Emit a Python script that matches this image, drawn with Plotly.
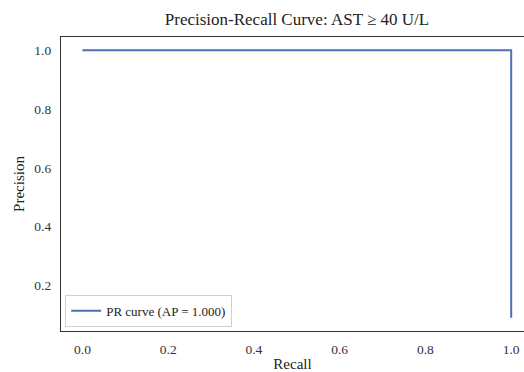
import plotly.graph_objects as go

recall = [0.0, 1.0, 1.0]
precision = [1.0, 1.0, 0.09]
series_name = "PR curve (AP = 1.000)"
title_text = "Precision-Recall Curve: AST \u2265 40 U/L"
tick_vals = [0.0, 0.2, 0.4, 0.6, 0.8, 1.0]
y_tick_vals = [0.2, 0.4, 0.6, 0.8, 1.0]

SERIF = "Liberation Serif, Times New Roman, serif"

fig = go.Figure()
fig.add_trace(go.Scatter(
    x=recall, y=precision, mode="lines", name=series_name,
    line=dict(color="#4C72B0", width=2),
))

fig.update_layout(
    width=524, height=372,
    margin=dict(l=61, r=0, t=37, b=41),
    paper_bgcolor="white", plot_bgcolor="white",
    font=dict(family=SERIF, size=13.5, color="#333333"),
    title=dict(text=title_text, x=297/524, xanchor="center", y=1-19/372, yanchor="middle",
               font=dict(family=SERIF, size=17, color="#222222")),
    showlegend=True,
    legend=dict(x=0.009, y=0.014, xanchor="left", yanchor="bottom",
                bordercolor="#d0d0d0", borderwidth=1, bgcolor="white",
                font=dict(family=SERIF, size=13, color="#222222"),
                itemwidth=30, tracegroupgap=0),
)
fig.update_xaxes(
    range=[-0.05, 1.0299], tickvals=tick_vals, ticktext=[f"{v:.1f}" for v in tick_vals],
    showgrid=False, zeroline=False, showline=True, linecolor="#333333", linewidth=1.3,
    mirror=True, ticks="", ticklen=0, ticklabelstandoff=6,
    title=dict(text="Recall", standoff=2, font=dict(family=SERIF, size=15, color="#222222")),
)
fig.update_yaxes(
    range=[0.0445, 1.0455], tickvals=y_tick_vals, ticktext=[f"{v:.1f}" for v in y_tick_vals],
    showgrid=False, zeroline=False, showline=True, linecolor="#333333", linewidth=1.3,
    mirror=False, ticks="", ticklen=0, ticklabelstandoff=6,
    title=dict(text="Precision", standoff=6, font=dict(family=SERIF, size=15, color="#222222")),
)

fig.write_html("out.html")
